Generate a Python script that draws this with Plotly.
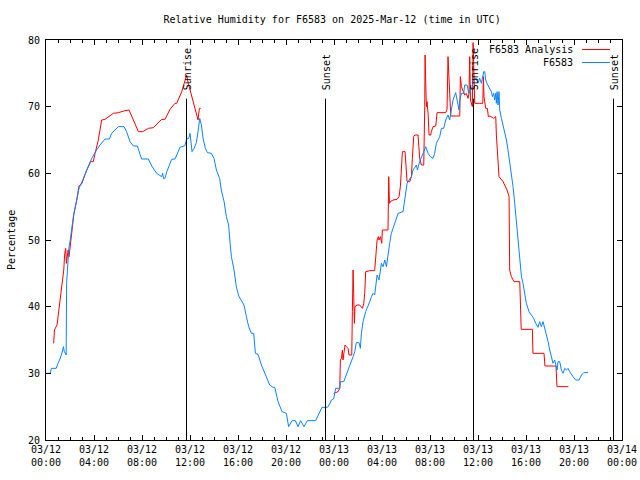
import pandas as pd
import plotly.graph_objects as go

BASE = pd.Timestamp("2025-03-12 00:00")

# Observed station series (hours since 03/12 00:00 UTC, relative humidity %)
obs_hours = [0.0, 0.35, 0.45, 0.85, 1.0, 1.2, 1.35, 1.45, 1.52, 1.62, 1.68, 1.72, 1.8, 1.9, 2.0,
             2.14, 2.28, 2.56, 2.75, 3.06, 3.39, 3.81, 4.22, 4.5, 4.92, 5.28, 5.47, 6.03, 6.5,
             6.72, 7.0, 7.28, 7.61, 7.97, 8.53, 8.81, 9.22, 9.64, 9.72, 9.8, 9.9, 10.06, 10.47,
             10.75, 11.17, 11.58, 11.72, 11.89, 12.0, 12.17, 12.34, 12.53, 12.67, 12.81, 12.95,
             13.09, 13.28, 13.45, 13.78, 14.0, 14.2, 14.47, 14.61, 14.84, 15.03, 15.22, 15.34,
             15.45, 15.67, 15.86, 16.06, 16.28, 16.5, 16.7, 16.89, 17.11, 17.31, 17.45, 17.67,
             17.95, 18.22, 18.64, 18.92, 19.06, 19.34, 19.67, 20.03, 20.22, 20.5, 20.78, 21.0,
             21.22, 21.5, 21.78, 22.47, 22.67, 23.0, 23.45, 23.64, 23.78, 23.98, 24.06, 24.14,
             24.48, 24.53, 24.81, 25.03, 25.25, 25.45, 25.59, 25.73, 25.86, 26.09, 26.2, 26.28,
             26.42, 26.64, 26.84, 26.98, 27.12, 27.25, 27.39, 27.48, 27.59, 27.75, 27.81, 27.95,
             28.09, 28.23, 28.37, 28.5, 28.64, 28.78, 28.98, 29.14, 29.34, 29.75, 29.89, 29.98,
             30.09, 30.25, 30.45, 30.59, 30.73, 30.87, 30.95, 31.14, 31.42, 31.64, 31.84, 32.03,
             32.25, 32.39, 32.53, 32.81, 32.95, 33.14, 33.31, 33.5, 33.64, 33.78, 33.92, 34.14,
             34.25, 34.42, 34.48, 34.62, 34.81, 34.89, 35.09, 35.23, 35.37, 35.53, 35.64, 35.87,
             36.0, 36.14, 36.28, 36.37, 36.48, 36.56, 36.64, 36.75, 36.92, 37.03, 37.12, 37.2,
             37.31, 37.39, 37.48, 37.53, 37.59, 37.67, 37.75, 37.81, 37.95, 38.09, 38.23, 38.37,
             38.5, 38.64, 38.78, 38.92, 39.06, 39.2, 39.34, 39.48, 39.62, 39.75, 39.89, 40.03,
             40.25, 40.45, 40.64, 40.81, 41.0, 41.14, 41.28, 41.42, 41.56, 41.7, 41.84, 41.98,
             42.12, 42.25, 42.39, 42.48, 42.59, 42.67, 42.81, 42.95, 43.09, 43.23, 43.37, 43.5,
             43.64, 43.92, 44.14, 44.42, 44.62, 44.81, 45.17]
obs_values = [30, 30, 30.75, 30.75, 31.5, 32.3, 33.2, 34, 33.3, 32.75, 32.75, 43.5, 46.5, 48.75, 49.75,
              52, 53.5, 56, 57.75, 59, 60.5, 62.25, 63.5, 64.25, 65.15, 65.15, 66, 67, 67,
              66.25, 64.75, 64.1, 64.1, 62.15, 62.15, 61.1, 60, 59.5, 60, 59.2, 59.2, 60.2, 62.1,
              62.15, 63.9, 64.15, 65.15, 65.25, 66, 63.25, 63.75, 64.6, 66.25, 68.25, 67.25,
              65.25, 63.75, 63.1, 63, 62.25, 60.5, 59.25, 57.5, 55.75, 53.5, 52.25, 49.5,
              47.5, 45.5, 43, 41.6, 41, 40.25, 38.5, 37, 36, 36, 33, 32.85,
              31.25, 30, 28.25, 27.9, 27.9, 25.75, 24.25, 24, 22, 22.9, 22.9, 22,
              22.9, 22, 22.9, 22.9, 23.75, 24.9, 24.9, 25.4, 26, 26.2, 27, 27.75,
              27.75, 28.75, 28.75, 29.75, 30.75, 31.75, 32.5, 33.25, 34.6, 34.6, 33.75, 36,
              37.75, 39.25, 40, 40.75, 41.5, 42, 41.75, 43, 44.75, 44, 45, 46.5,
              46, 47, 46, 48, 49.5, 51, 52, 52.75, 54, 54.25, 56, 57.25,
              58.5, 59, 59.5, 60.5, 61, 61.25, 60.5, 61.75, 63, 64, 63, 62.5,
              62.25, 63, 64.5, 65.5, 66.75, 66.75, 68, 68.75, 68, 69.75, 71, 72.1,
              71.25, 69.5, 71, 72, 72, 73.25, 73.25, 72, 72.5, 73, 74.25, 74.25,
              73.5, 74.25, 73.5, 74.5, 75.25, 75.25, 74, 73.5, 72.75, 72.5, 72.25, 71.5,
              72, 71, 72, 70.5, 72.25, 70.25, 72.25, 69.5, 68.25, 67.25, 66.25, 65,
              63.5, 61.75, 60, 58, 55.5, 52.5, 50, 47, 44.5, 43.5, 42, 40.5,
              39.25, 38.75, 38.25, 37.5, 36.9, 37.75, 37, 37.75, 36.75, 36, 34.75, 33.5,
              32.5, 31.5, 32, 31.25, 30.5, 31.75, 31.75, 30.5, 30, 30.75, 30.5, 30.75,
              30.25, 29.5, 29, 29, 29.75, 30.1, 30.1]

# Analysis series (None = no analysis available)
ana_hours = [0.64, 0.7, 0.92, 1.0, 1.08, 1.2, 1.28, 1.38, 1.48, 1.56, 1.64, 1.7, 1.84, 1.92, 2.11,
             2.25, 2.33, 2.56, 2.75, 2.97, 3.39, 3.72, 3.94, 4.09, 4.36, 4.64, 4.92, 5.61, 6.03,
             6.58, 6.92, 7.28, 7.7, 8.06, 8.53, 8.95, 9.64, 9.92, 10.33, 10.75, 10.89, 11.31,
             11.58, 11.72, 11.86, 12.14, 12.47, 12.67, 12.78, 12.89, 18.0,
             23.98, 24.34, 24.48, 24.53, 24.62, 24.7, 24.75, 24.84, 24.92, 25.03, 25.17, 25.25,
             25.48, 25.53, 25.59, 25.64, 25.7, 25.75, 25.92, 26.14, 26.37, 26.48, 26.56, 26.64,
             26.98, 27.39, 27.48, 27.59, 27.7, 27.75, 27.87, 27.98, 28.03, 28.23, 28.5, 28.56,
             28.62, 28.7, 28.92, 29.25, 29.42, 29.53, 29.62, 29.7, 29.92, 29.98, 30.09, 30.31,
             30.45, 30.53, 30.64, 30.73, 31.0, 31.09, 31.14, 31.28, 31.48, 31.56, 31.59, 31.64,
             31.7, 31.75, 31.84, 31.92, 32.06, 32.11, 32.25, 32.48, 32.59, 33.31, 33.42, 33.5,
             33.59, 33.64, 33.73, 34.48, 34.53, 34.62, 34.75, 34.89, 35.03, 35.17, 35.25, 35.31,
             35.37, 35.45, 35.53, 35.59, 35.64, 35.73, 36.14, 36.4, 36.45, 36.5, 36.64, 36.78,
             36.86, 37.0, 37.3, 37.48, 37.53, 37.67, 37.75, 38.09, 38.42, 38.59, 38.6, 38.64,
             38.78, 39.0, 39.48, 39.53, 39.6, 40.53, 40.58, 41.5, 41.58, 42.5, 42.58, 43.53]
ana_values = [34.5, 36.5, 37.25, 38.5, 40, 41.25, 42.75, 44, 45.5, 48, 48.75, 46.5, 48.5, 47.5, 51,
              53, 54, 56, 58.1, 58.4, 60.5, 61.75, 61.75, 63, 65, 68, 68.1, 69, 69.1,
              69.4, 69.5, 68, 66.25, 66.25, 66.75, 66.85, 68.1, 68.1, 69.6, 70.5, 70.5, 72.25,
              74, 74.75, 73.5, 71.5, 69, 68, 69.75, 69.75, None,
              27, 27.25, 27.75, 32, 32.25, 33.5, 32, 33, 34.25, 34, 33.75, 32.75,
              32.75, 39.25, 45.5, 42, 37.5, 40, 40.25, 40.25, 39.75, 40.5, 42, 45.25,
              45.4, 45.4, 48, 50, 50.5, 50, 50.5, 49.5, 51.5, 51.5, 51.5, 59.5,
              55.5, 55.75, 56, 56.1, 56.5, 58, 60.5, 63.25, 63.25, 61, 58.75, 58.75,
              59.5, 62.25, 65.5, 65.75, 65.75, 63.5, 62.25, 61.25, 61.25, 70, 77.75, 73.75,
              70, 70.75, 69, 65.75, 65.75, 66.25, 67, 67.1, 69.1, 69.1, 69.6, 77.5,
              74, 71.25, 68.6, 68.6, 74.5, 73, 72.25, 71.75, 72, 71.25, 72, 77.5,
              71, 70.5, 70, 79.6, 75, 70.5, 70.5, 70.5, 74.5, 71.5, 69.75, 69.75,
              68.5, 68.6, 68.25, 68.5, 65.75, 61.25, 59.5, 58.75, 57.5, 56.5, 52, 45.5,
              44.5, 43.75, 43.75, 40.25, 36.6, 36.6, 33, 33, 31.1, 31.1, 28, 28]

# Sun events
event_hours = [11.708, 23.292, 35.625, 47.292]
event_labels = ["Sunrise", "Sunset", "Sunrise", "Sunset"]
event_top = 71.2

title_text = "Relative Humidity for F6583 on 2025-Mar-12 (time in UTC)"
ana_name = "F6583 Analysis"
obs_name = "F6583"

RED = "#ff0000"
BLUE = "#0a84ff"
FONT = "DejaVu Sans Mono"


def to_time(hours):
    return [BASE + pd.Timedelta(hours=h) for h in hours]


fig = go.Figure()
fig.add_trace(go.Scatter(x=to_time(ana_hours), y=ana_values, mode="lines", name=ana_name,
                         line=dict(color=RED, width=1), connectgaps=False))
fig.add_trace(go.Scatter(x=to_time(obs_hours), y=obs_values, mode="lines", name=obs_name,
                         line=dict(color=BLUE, width=1)))

event_times = to_time(event_hours)
for t, lab in zip(event_times, event_labels):
    fig.add_shape(type="line", xref="x", yref="y", x0=t, x1=t, y0=20, y1=event_top,
                  line=dict(color="black", width=1))
    fig.add_annotation(x=t, y=event_top + 0.9, xref="x", yref="y", text=lab, textangle=-90,
                       showarrow=False, xanchor="center", yanchor="bottom", xshift=1,
                       font=dict(family=FONT, size=10, color="black"))

# Manual legend (gnuplot style: text right-aligned, sample on right)
PL, PR, PT, PB = 46, 622, 40, 440
def px_x(px):
    return (px - PL) / (PR - PL)
def px_y(py):
    return (PB - py) / (PB - PT)

for name, col, py in [(ana_name, RED, 49.5), (obs_name, BLUE, 62.5)]:
    fig.add_annotation(x=px_x(575), y=px_y(py), xref="paper", yref="paper", text=name,
                       showarrow=False, xanchor="right", yanchor="middle",
                       font=dict(family=FONT, size=10, color="black"))
    fig.add_shape(type="line", xref="paper", yref="paper", x0=px_x(582), x1=px_x(610),
                  y0=px_y(py), y1=px_y(py), line=dict(color=col, width=1))

fig.add_annotation(x=px_x(11), y=0.5, xref="paper", yref="paper", text="Percentage",
                   textangle=-90, showarrow=False, xanchor="center", yanchor="middle",
                   font=dict(family=FONT, size=10, color="black"))

fig.update_layout(
    width=640, height=480,
    margin=dict(l=PL, r=640 - PR, t=PT, b=480 - PB, autoexpand=False),
    paper_bgcolor="white", plot_bgcolor="white",
    showlegend=False,
    font=dict(family=FONT, size=10, color="black"),
    title=dict(text=title_text, x=(PL + PR) / 2 / 640 - 0.003, xref="container", xanchor="center",
               y=1 - 19 / 480, yref="container", yanchor="middle",
               font=dict(family=FONT, size=10, color="black")),
)
fig.update_xaxes(
    type="date", range=[BASE, BASE + pd.Timedelta(hours=48)], automargin=False,
    dtick=4 * 3600 * 1000, tick0=BASE, tickformat="%m/%d<br>%H:%M",
    ticks="inside", ticklen=5, tickcolor="black", showgrid=False, zeroline=False,
    showline=True, linecolor="black", linewidth=1, mirror="ticks",
    minor=dict(dtick=3600 * 1000, ticks="inside", ticklen=3, tickcolor="black", showgrid=False),
    tickfont=dict(family=FONT, size=10),
)
fig.update_yaxes(
    range=[20, 80], dtick=10, ticks="inside", ticklen=5, tickcolor="black", automargin=False,
    showgrid=False, zeroline=False, showline=True, linecolor="black", linewidth=1,
    mirror="ticks", tickfont=dict(family=FONT, size=10), ticklabelstandoff=3,
)

fig.write_html("out.html", config={"displayModeBar": False},
               post_script="document.body.style.margin='0px';")
